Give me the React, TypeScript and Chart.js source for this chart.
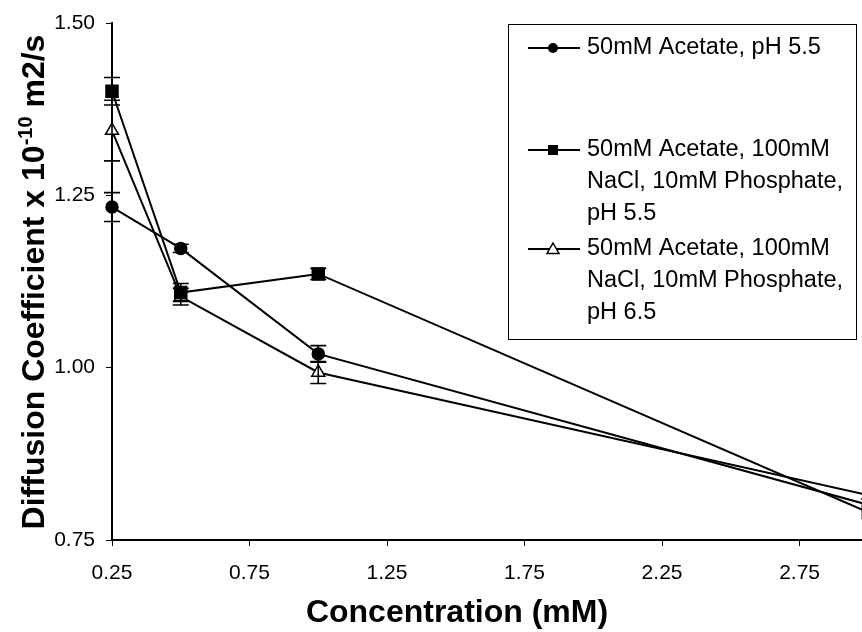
import { useEffect, useRef } from "react";
import { Chart, registerables } from "chart.js";

Chart.register(...registerables);

const FONT = "'Liberation Sans', Arial, Helvetica, sans-serif";

// Data
const concentrations = [0.25, 0.5, 1.0, 3.0];
const acetate55 = [1.233, 1.173, 1.02, 0.801];
const acetate55Err = [0.021, 0.006, 0.012, 0];
const nacl55 = [1.401, 1.109, 1.136, 0.79];
const nacl55Err = [0.02, 0.013, 0.008, 0];
const nacl65 = [1.344, 1.103, 0.993, 0.815];
const nacl65Err = [0.044, 0.012, 0.016, 0];

const xTicks = [0.25, 0.75, 1.25, 1.75, 2.25, 2.75];
const yTicks = [0.75, 1.0, 1.25, 1.5];

const legendLines = [
  ["50mM Acetate, pH 5.5"],
  ["50mM Acetate, 100mM", "NaCl, 10mM Phosphate,", "pH 5.5"],
  ["50mM Acetate, 100mM", "NaCl, 10mM Phosphate,", "pH 6.5"],
];
const seriesLabels = legendLines.map((l) => l.join(" "));
const xTitle = "Concentration (mM)";
const yTitleMain = "Diffusion Coefficient x 10";
const yTitleSup = "-10";
const yTitleUnit = " m2/s";

const seriesValues = [acetate55, nacl55, nacl65];
const seriesErrors = [acetate55Err, nacl55Err, nacl65Err];
const pointStyles = ["circle", "rect", "triangle"];
const pointRadii = [6, 8.5, 7.5];
const pointFills = ["#000", "#000", "#fff"];

const errorBarPlugin = {
  id: "errorBars",
  afterDatasetsDraw(chart: any) {
    const { ctx, chartArea, scales } = chart;
    const x = scales.x;
    const y = scales.y;
    ctx.save();
    ctx.beginPath();
    ctx.rect(chartArea.left - 12, chartArea.top - 6, chartArea.right - chartArea.left + 12, chartArea.bottom - chartArea.top + 6);
    ctx.clip();
    ctx.strokeStyle = "#000";
    ctx.lineWidth = 1.6;
    seriesErrors.forEach((errs, di) => {
      const vals = seriesValues[di];
      errs.forEach((e, i) => {
        if (!e) return;
        const px = x.getPixelForValue(concentrations[i]);
        const t = y.getPixelForValue(vals[i] + e);
        const b = y.getPixelForValue(vals[i] - e);
        ctx.beginPath();
        ctx.moveTo(px, t);
        ctx.lineTo(px, b);
        ctx.moveTo(px - 8, t);
        ctx.lineTo(px + 8, t);
        ctx.moveTo(px - 8, b);
        ctx.lineTo(px + 8, b);
        ctx.stroke();
      });
    });
    ctx.restore();
  },
};

function drawMarker(ctx: CanvasRenderingContext2D, style: string, x: number, y: number) {
  ctx.save();
  ctx.strokeStyle = "#000";
  ctx.lineWidth = 1.5;
  ctx.beginPath();
  if (style === "circle") {
    ctx.fillStyle = "#000";
    ctx.arc(x, y, 5, 0, Math.PI * 2);
    ctx.fill();
  } else if (style === "rect") {
    ctx.fillStyle = "#000";
    ctx.fillRect(x - 5, y - 5, 10, 10);
  } else {
    ctx.fillStyle = "#fff";
    ctx.moveTo(x, y - 6);
    ctx.lineTo(x + 6, y + 4.5);
    ctx.lineTo(x - 6, y + 4.5);
    ctx.closePath();
    ctx.fill();
    ctx.stroke();
  }
  ctx.restore();
}

const legendPlugin = {
  id: "boxLegend",
  afterDraw(chart: any) {
    const ctx: CanvasRenderingContext2D = chart.ctx;
    const left = 508, top = 24, right = 856, bottom = 339;
    const firstLineY = [48, 150, 249];
    const lineH = 32;
    ctx.save();
    ctx.fillStyle = "#fff";
    ctx.fillRect(left, top, right - left, bottom - top);
    ctx.strokeStyle = "#000";
    ctx.lineWidth = 1;
    ctx.strokeRect(left + 0.5, top + 0.5, right - left, bottom - top);
    legendLines.forEach((lines, i) => {
      const cy = firstLineY[i];
      ctx.strokeStyle = "#000";
      ctx.lineWidth = 2;
      ctx.beginPath();
      ctx.moveTo(528, cy);
      ctx.lineTo(580, cy);
      ctx.stroke();
      drawMarker(ctx, pointStyles[i], 553, cy);
      ctx.fillStyle = "#000";
      ctx.font = `23.5px ${FONT}`;
      ctx.textAlign = "left";
      ctx.textBaseline = "middle";
      lines.forEach((t, j) => ctx.fillText(t, 587, cy + j * lineH));
    });
    ctx.restore();
  },
};

const titlePlugin = {
  id: "axisTitles",
  afterDraw(chart: any) {
    const ctx: CanvasRenderingContext2D = chart.ctx;
    ctx.save();
    ctx.fillStyle = "#000";
    ctx.font = `bold 32px ${FONT}`;
    ctx.textAlign = "center";
    ctx.textBaseline = "middle";
    ctx.fillText(xTitle, 457, 613);

    ctx.translate(32, 282);
    ctx.rotate(-Math.PI / 2);
    ctx.textAlign = "left";
    ctx.textBaseline = "alphabetic";
    const parts = [
      { t: yTitleMain, f: `bold 32px ${FONT}`, dy: 0 },
      { t: yTitleSup, f: `bold 20px ${FONT}`, dy: -12 },
      { t: yTitleUnit, f: `bold 32px ${FONT}`, dy: 0 },
    ];
    let total = 0;
    const widths = parts.map((p) => {
      ctx.font = p.f;
      const w = ctx.measureText(p.t).width;
      total += w;
      return w;
    });
    let cx = -total / 2;
    parts.forEach((p, i) => {
      ctx.font = p.f;
      ctx.fillText(p.t, cx, 11.5 + p.dy);
      cx += widths[i];
    });
    ctx.restore();
  },
};

export default function App() {
  const ref = useRef<HTMLCanvasElement | null>(null);
  useEffect(() => {
    if (!ref.current) return;
    const chart = new Chart(ref.current, {
      type: "line",
      data: {
        datasets: seriesValues.map((vals, i) => ({
          label: seriesLabels[i],
          data: concentrations.map((c, j) => ({ x: c, y: vals[j] })),
          borderColor: "#000",
          borderWidth: 2,
          tension: 0,
          pointStyle: pointStyles[i] as any,
          pointRadius: pointRadii[i],
          pointBackgroundColor: pointFills[i],
          pointBorderColor: "#000",
          pointBorderWidth: 1.5,
          clip: { left: 15, top: 10, right: 10, bottom: 10 } as any,
        })),
      },
      options: {
        animation: false,
        responsive: true,
        maintainAspectRatio: false,
        events: [],
        layout: { autoPadding: false, padding: { left: 0, top: 23, right: 0, bottom: 0 } },
        plugins: {
          legend: { display: false },
          tooltip: { enabled: false },
          title: { display: false },
        },
        scales: {
          x: {
            type: "linear",
            min: 0.25,
            max: 2.977,
            afterBuildTicks: (scale: any) => {
              scale.ticks = xTicks.map((v) => ({ value: v }));
            },
            afterFit: (scale: any) => {
              scale.height = 92;
              scale.paddingLeft = 0;
              scale.paddingRight = 0;
            },
            grid: { display: true, drawOnChartArea: false, drawTicks: true, tickLength: 6, color: "#000", lineWidth: 1 },
            border: { display: true, color: "#000", width: 2 },
            ticks: {
              color: "#000",
              padding: 15,
              maxRotation: 0,
              font: { family: FONT, size: 21 },
              callback: (v: any) => Number(v).toFixed(2),
            },
          },
          y: {
            type: "linear",
            min: 0.75,
            max: 1.5,
            afterBuildTicks: (scale: any) => {
              scale.ticks = yTicks.map((v) => ({ value: v }));
            },
            afterFit: (scale: any) => {
              scale.width = 112;
              scale.paddingTop = 0;
              scale.paddingBottom = 0;
            },
            grid: { display: true, drawOnChartArea: false, drawTicks: true, tickLength: 6, color: "#000", lineWidth: 1 },
            border: { display: true, color: "#000", width: 2 },
            ticks: {
              color: "#000",
              padding: 11,
              font: { family: FONT, size: 21 },
              callback: (v: any) => Number(v).toFixed(2),
            },
          },
        },
      },
      plugins: [errorBarPlugin, legendPlugin, titlePlugin],
    });
    return () => chart.destroy();
  }, []);
  return (
    <div style={{ position: "absolute", left: 0, top: 0, width: 862, height: 632, background: "#fff" }}>
      <canvas ref={ref} />
    </div>
  );
}
